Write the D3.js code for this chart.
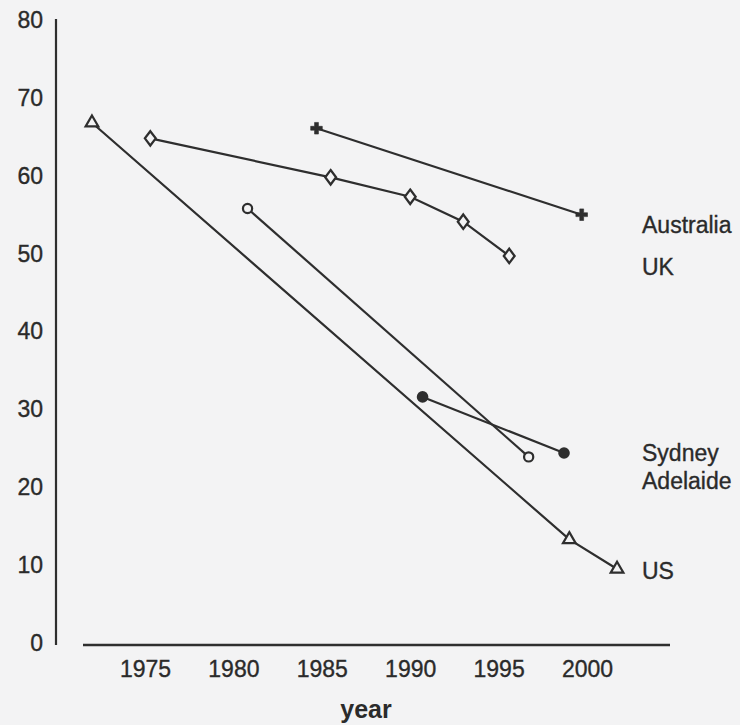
<!DOCTYPE html>
<html><head><meta charset="utf-8">
<script src="https://cdn.jsdelivr.net/npm/d3@7"></script>
<style>
html,body{margin:0;padding:0;background:#f3f3f4;}
svg{display:block;}
text{font-family:"Liberation Sans",Arial,sans-serif;fill:#2b2b2b;}
</style></head><body>
<svg id="c" width="740" height="725"></svg>
<script>
// ---- data ----
const xTicks = [1975, 1980, 1985, 1990, 1995, 2000];
const yTicks = [0, 10, 20, 30, 40, 50, 60, 70, 80];
const usYears = [1972, 1999, 2001.7];
const usValues = [66.8, 13.3, 9.5];
const ukYears = [1975.3, 1985.5, 1990, 1993, 1995.6];
const ukValues = [64.8, 59.8, 57.3, 54.1, 49.7];
const ausYears = [1984.7, 1999.7];
const ausValues = [66.1, 55.0];
const adelaideYears = [1980.8, 1996.7];
const adelaideValues = [55.8, 23.9];
const sydneyYears = [1990.7, 1998.7];
const sydneyValues = [31.6, 24.4];
const seriesLabels = ["Australia", "UK", "Sydney", "Adelaide", "US"];
const labelValues = [53.7, 48.3, 24.4, 20.8, 9.3];
const xLabel = "year";

const svg = d3.select("#c");
const x = d3.scaleLinear().domain([1975, 2000]).range([145, 587]);
const y = d3.scaleLinear().domain([0, 80]).range([643, 20]);
const ink = "#2e2e2e";
const txt = "#2a2a2a";

function styleText(sel, size) {
  sel.attr("font-size", size).attr("fill", txt)
    .attr("stroke", txt).attr("stroke-width", 0.35)
    .attr("font-family", "Liberation Sans, Arial, sans-serif");
}

// y axis
const ya = svg.append("g").attr("transform", "translate(56,0)")
  .call(d3.axisLeft(y).tickValues(yTicks).tickSize(0).tickPadding(13));
ya.select(".domain").attr("d", "M0,19V645").attr("stroke", ink).attr("stroke-width", 2.2);
styleText(ya.selectAll("text"), 23);

// x axis
const xa = svg.append("g").attr("transform", "translate(0,645)")
  .call(d3.axisBottom(x).tickValues(xTicks).tickFormat(d3.format("d")).tickSize(0).tickPadding(16));
xa.select(".domain").attr("d", "M83,0H670").attr("stroke", ink).attr("stroke-width", 2.4);
styleText(xa.selectAll("text"), 23);

svg.append("text").attr("x", 366).attr("y", 718).attr("text-anchor", "middle")
  .attr("font-size", 25).attr("font-weight", "bold").text(xLabel);

const line = d3.line().x(d => x(d[0])).y(d => y(d[1]));
function series(years, values) { return years.map((yr, i) => [yr, values[i]]); }
const all = [
  {pts: series(usYears, usValues), m: "tri"},
  {pts: series(ukYears, ukValues), m: "dia"},
  {pts: series(ausYears, ausValues), m: "plus"},
  {pts: series(adelaideYears, adelaideValues), m: "open"},
  {pts: series(sydneyYears, sydneyValues), m: "fill"}
];
all.forEach(s => {
  svg.append("path").attr("d", line(s.pts)).attr("fill", "none")
    .attr("stroke", ink).attr("stroke-width", 2.2);
});
all.forEach(s => {
  const g = svg.append("g");
  s.pts.forEach(p => {
    const cx = x(p[0]), cy = y(p[1]);
    if (s.m === "tri") {
      g.append("path").attr("d", d3.symbol(d3.symbolTriangle, 70)())
        .attr("transform", `translate(${cx},${cy})`)
        .attr("fill", "#f3f3f4").attr("stroke", ink).attr("stroke-width", 2.2);
    } else if (s.m === "dia") {
      g.append("path").attr("d", d3.symbol(d3.symbolDiamond, 60)())
        .attr("transform", `translate(${cx},${cy}) scale(1.3,1.0)`)
        .attr("fill", "#f3f3f4").attr("stroke", ink).attr("stroke-width", 1.9);
    } else if (s.m === "plus") {
      g.append("path").attr("d", d3.symbol(d3.symbolCross, 75)())
        .attr("transform", `translate(${cx},${cy})`)
        .attr("fill", ink).attr("stroke", ink).attr("stroke-width", 0.6);
    } else if (s.m === "open") {
      g.append("circle").attr("cx", cx).attr("cy", cy).attr("r", 4.6)
        .attr("fill", "#f3f3f4").attr("stroke", ink).attr("stroke-width", 2.2);
    } else {
      g.append("circle").attr("cx", cx).attr("cy", cy).attr("r", 5.8)
        .attr("fill", ink);
    }
  });
});

// series labels
const labs = svg.selectAll(".lab").data(seriesLabels).enter().append("text")
  .attr("class", "lab").attr("x", 642).attr("y", (d, i) => y(labelValues[i]))
  .attr("dy", "0.36em").text(d => d);
styleText(labs, 23);
</script></body></html>
